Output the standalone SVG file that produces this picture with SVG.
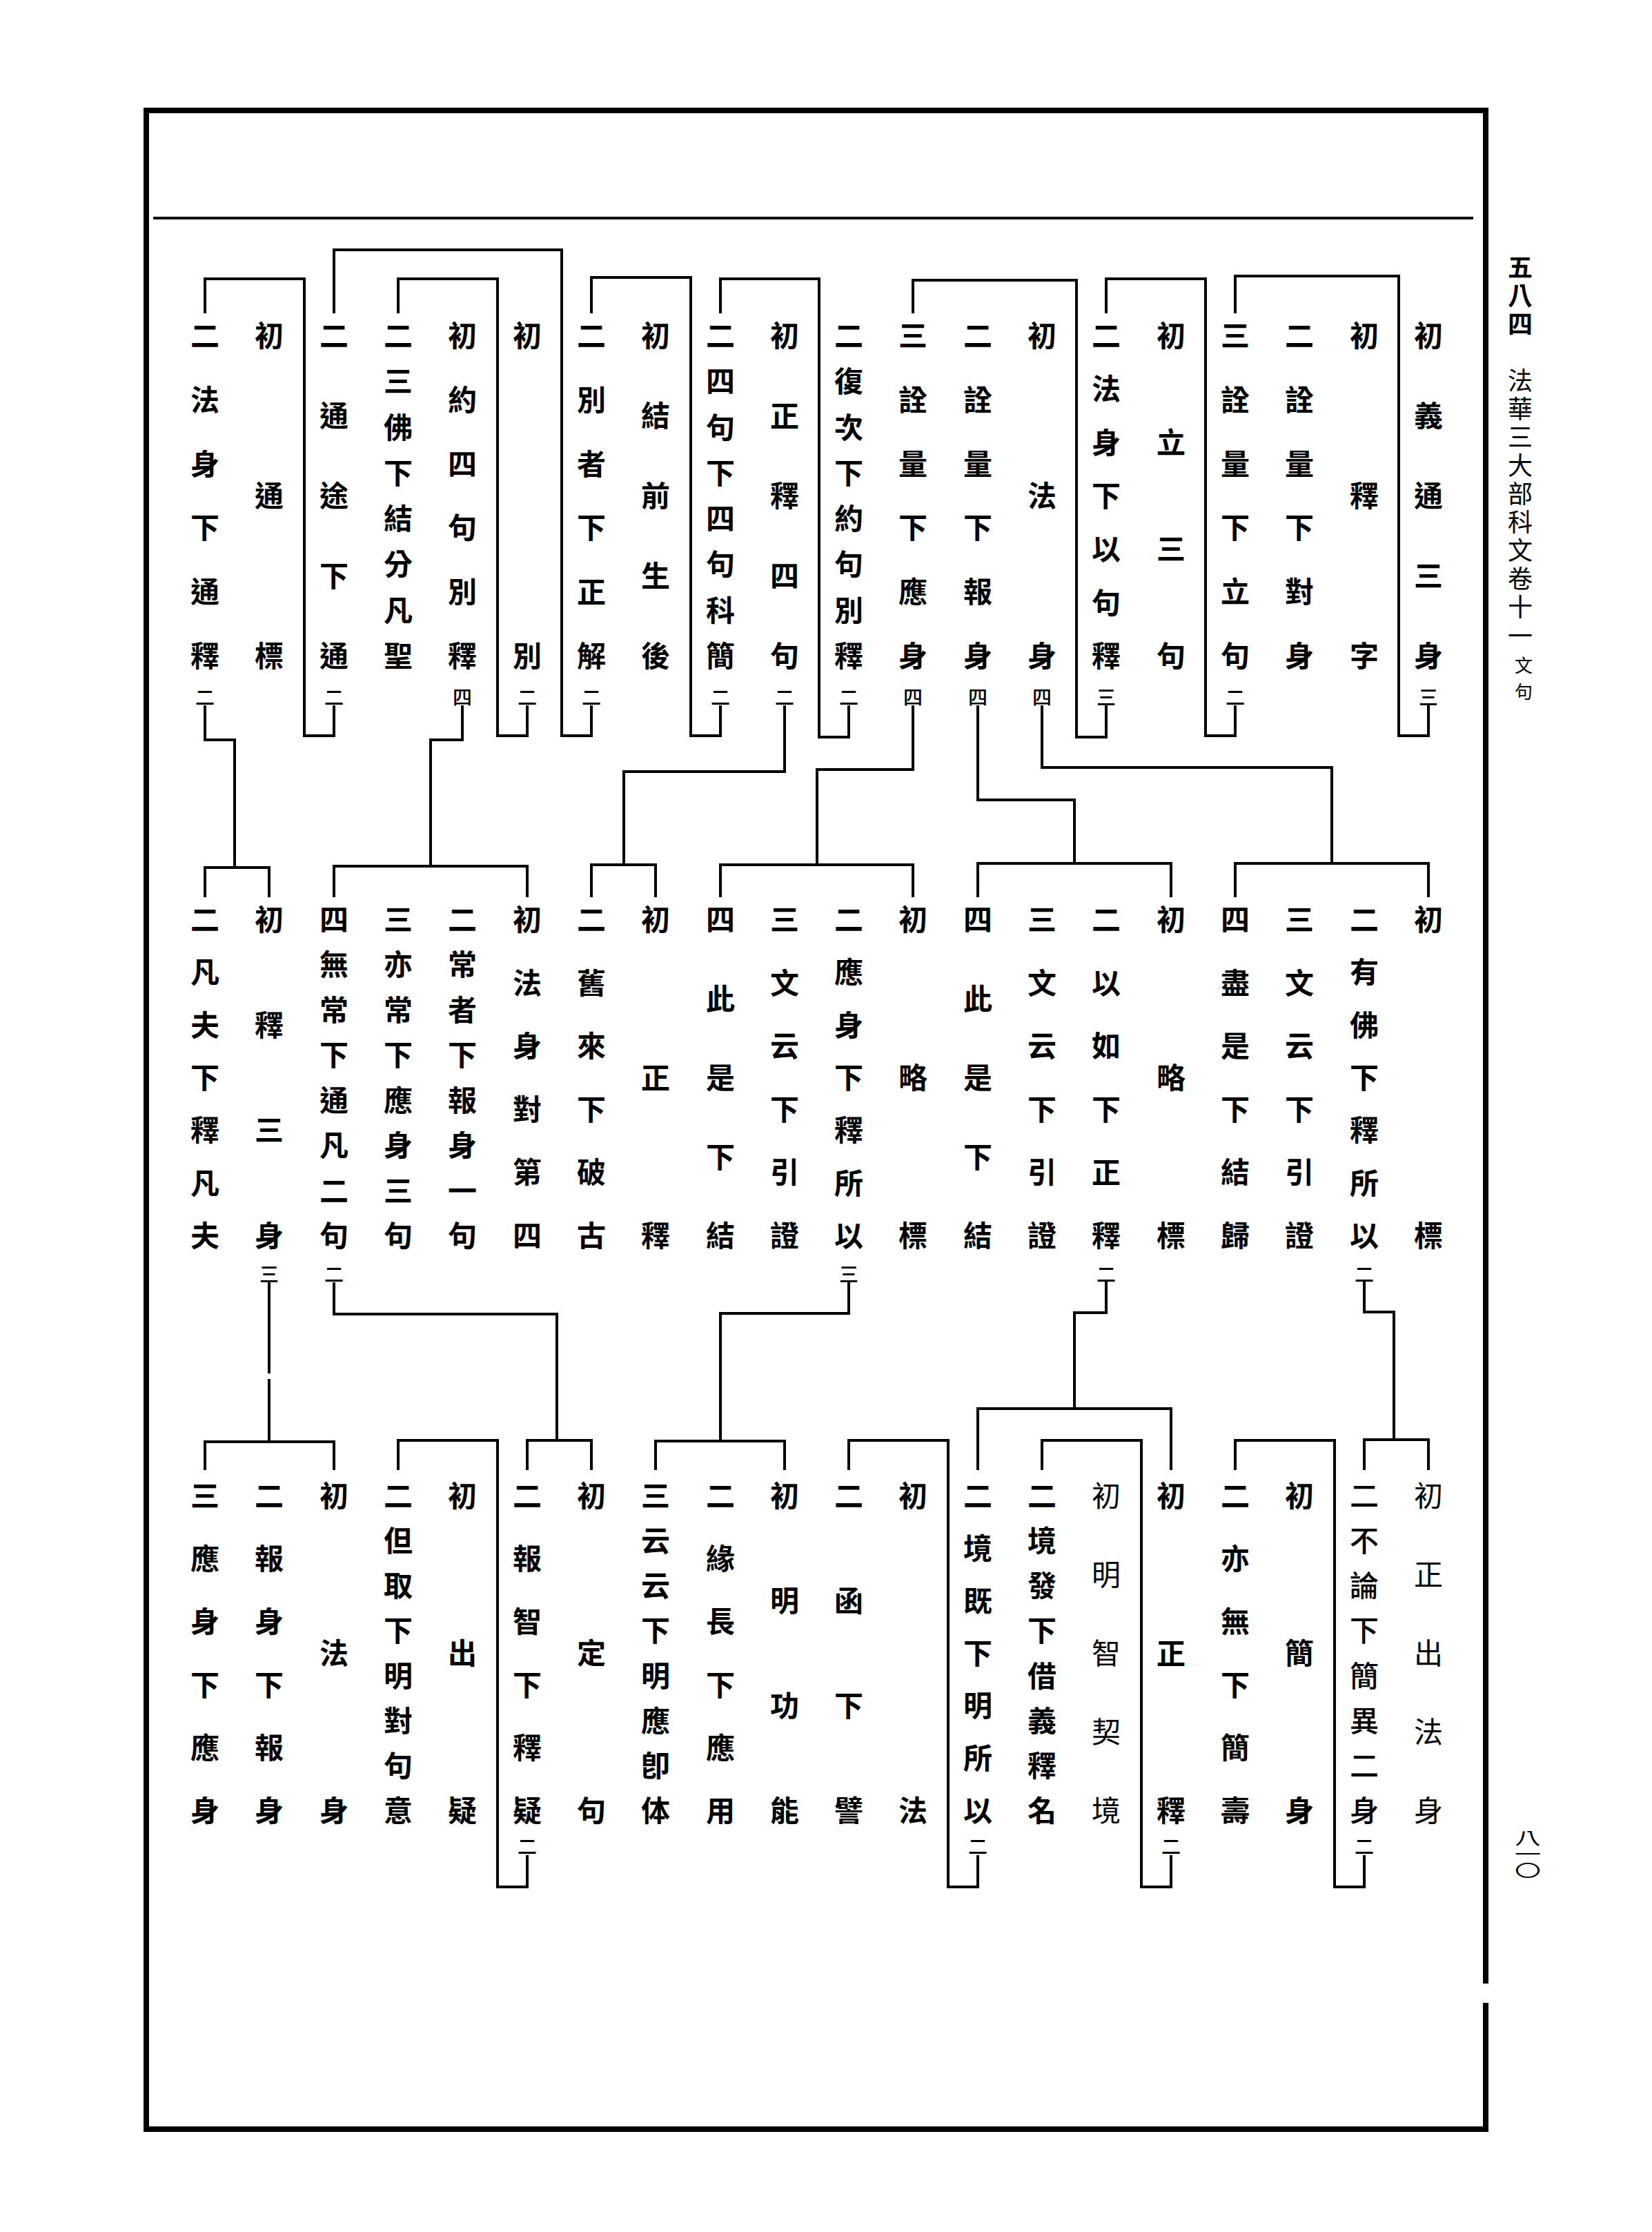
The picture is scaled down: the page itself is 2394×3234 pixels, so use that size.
<svg xmlns="http://www.w3.org/2000/svg" width="2394" height="3234" viewBox="0 0 2394 3234">
<style>
text{font-family:"Noto Sans CJK TC","Noto Sans CJK SC",sans-serif;text-anchor:middle;dominant-baseline:central;fill:#000}
.t{font-size:42px;font-weight:700}
.l{font-weight:400}
.m{font-weight:500}
.s{font-size:28px;font-weight:500}
.mg{font-size:36px;font-weight:400}
.v{writing-mode:vertical-rl;text-anchor:start}
.ln{fill:none;stroke:#000;stroke-width:4;stroke-linecap:square;stroke-linejoin:miter}
.fr{fill:none;stroke:#000;stroke-width:8;stroke-linecap:square;stroke-linejoin:miter}
</style>
<rect width="2394" height="3234" fill="#fff"/>
<g id="frame">
<path class="fr" d="M2153,2870 V160 H212 V3085 H2153 V2906"/>
<path class="ln" d="M224,316 H2133"/>
</g>
<g id="margin">
<text class="mg v" x="2203" y="369" style="font-weight:700;letter-spacing:5px">五八四</text>
<text class="mg v" x="2203" y="533" style="letter-spacing:5.1px">法華三大部科文卷十一</text>
<text class="mg v" x="2208" y="951" style="font-size:26px;letter-spacing:12px">文句</text>
<text class="mg v" x="0" y="0" transform="translate(2214,2651) scale(1,0.62)" style="font-size:38px">八一〇</text>
</g>
<g id="top-row">
<g id="t01"><text class="t"><tspan x="2070" y="483">初</tspan><tspan x="2070" y="599">義</tspan><tspan x="2070" y="715">通</tspan><tspan x="2070" y="831">三</tspan><tspan x="2070" y="947">身</tspan><tspan class="s" x="2070" y="1009">三</tspan></text></g>
<g id="t02"><text class="t"><tspan x="1977" y="483">初</tspan><tspan x="1977" y="715">釋</tspan><tspan x="1977" y="947">字</tspan></text></g>
<g id="t03"><text class="t"><tspan x="1883" y="483">二</tspan><tspan x="1883" y="576">詮</tspan><tspan x="1883" y="669">量</tspan><tspan x="1883" y="761">下</tspan><tspan x="1883" y="854">對</tspan><tspan x="1883" y="947">身</tspan></text></g>
<g id="t04"><text class="t"><tspan x="1790" y="483">三</tspan><tspan x="1790" y="576">詮</tspan><tspan x="1790" y="669">量</tspan><tspan x="1790" y="761">下</tspan><tspan x="1790" y="854">立</tspan><tspan x="1790" y="947">句</tspan><tspan class="s" x="1790" y="1009">二</tspan></text></g>
<g id="t05"><text class="t"><tspan x="1697" y="483">初</tspan><tspan x="1697" y="638">立</tspan><tspan x="1697" y="792">三</tspan><tspan x="1697" y="947">句</tspan></text></g>
<g id="t06"><text class="t"><tspan x="1603" y="483">二</tspan><tspan x="1603" y="560">法</tspan><tspan x="1603" y="638">身</tspan><tspan x="1603" y="715">下</tspan><tspan x="1603" y="792">以</tspan><tspan x="1603" y="870">句</tspan><tspan x="1603" y="947">釋</tspan><tspan class="s" x="1603" y="1009">三</tspan></text></g>
<g id="t07"><text class="t"><tspan x="1510" y="483">初</tspan><tspan x="1510" y="715">法</tspan><tspan x="1510" y="947">身</tspan><tspan class="s" x="1510" y="1009">四</tspan></text></g>
<g id="t08"><text class="t"><tspan x="1417" y="483">二</tspan><tspan x="1417" y="576">詮</tspan><tspan x="1417" y="669">量</tspan><tspan x="1417" y="761">下</tspan><tspan x="1417" y="854">報</tspan><tspan x="1417" y="947">身</tspan><tspan class="s" x="1417" y="1009">四</tspan></text></g>
<g id="t09"><text class="t"><tspan x="1323" y="483">三</tspan><tspan x="1323" y="576">詮</tspan><tspan x="1323" y="669">量</tspan><tspan x="1323" y="761">下</tspan><tspan x="1323" y="854">應</tspan><tspan x="1323" y="947">身</tspan><tspan class="s" x="1323" y="1009">四</tspan></text></g>
<g id="t10"><text class="t"><tspan x="1230" y="483">二</tspan><tspan x="1230" y="549">復</tspan><tspan x="1230" y="616">次</tspan><tspan x="1230" y="682">下</tspan><tspan x="1230" y="748">約</tspan><tspan x="1230" y="814">句</tspan><tspan x="1230" y="881">別</tspan><tspan x="1230" y="947">釋</tspan><tspan class="s" x="1230" y="1009">二</tspan></text></g>
<g id="t11"><text class="t"><tspan x="1137" y="483">初</tspan><tspan x="1137" y="599">正</tspan><tspan x="1137" y="715">釋</tspan><tspan x="1137" y="831">四</tspan><tspan x="1137" y="947">句</tspan><tspan class="s" x="1137" y="1009">二</tspan></text></g>
<g id="t12"><text class="t"><tspan x="1044" y="483">二</tspan><tspan x="1044" y="549">四</tspan><tspan x="1044" y="616">句</tspan><tspan x="1044" y="682">下</tspan><tspan x="1044" y="748">四</tspan><tspan x="1044" y="814">句</tspan><tspan x="1044" y="881">科</tspan><tspan x="1044" y="947">簡</tspan><tspan class="s" x="1044" y="1009">二</tspan></text></g>
<g id="t13"><text class="t"><tspan x="950" y="483">初</tspan><tspan x="950" y="599">結</tspan><tspan x="950" y="715">前</tspan><tspan x="950" y="831">生</tspan><tspan x="950" y="947">後</tspan></text></g>
<g id="t14"><text class="t"><tspan x="857" y="483">二</tspan><tspan x="857" y="576">別</tspan><tspan x="857" y="669">者</tspan><tspan x="857" y="761">下</tspan><tspan x="857" y="854">正</tspan><tspan x="857" y="947">解</tspan><tspan class="s" x="857" y="1009">二</tspan></text></g>
<g id="t15"><text class="t"><tspan x="764" y="483">初</tspan><tspan x="764" y="947">別</tspan><tspan class="s" x="764" y="1009">二</tspan></text></g>
<g id="t16"><text class="t"><tspan x="670" y="483">初</tspan><tspan x="670" y="576">約</tspan><tspan x="670" y="669">四</tspan><tspan x="670" y="761">句</tspan><tspan x="670" y="854">別</tspan><tspan x="670" y="947">釋</tspan><tspan class="s" x="670" y="1009">四</tspan></text></g>
<g id="t17"><text class="t"><tspan x="577" y="483">二</tspan><tspan x="577" y="549">三</tspan><tspan x="577" y="616">佛</tspan><tspan x="577" y="682">下</tspan><tspan x="577" y="748">結</tspan><tspan x="577" y="814">分</tspan><tspan x="577" y="881">凡</tspan><tspan x="577" y="947">聖</tspan></text></g>
<g id="t18"><text class="t"><tspan x="484" y="483">二</tspan><tspan x="484" y="599">通</tspan><tspan x="484" y="715">途</tspan><tspan x="484" y="831">下</tspan><tspan x="484" y="947">通</tspan><tspan class="s" x="484" y="1009">二</tspan></text></g>
<g id="t19"><text class="t"><tspan x="390" y="483">初</tspan><tspan x="390" y="715">通</tspan><tspan x="390" y="947">標</tspan></text></g>
<g id="t20"><text class="t"><tspan x="297" y="483">二</tspan><tspan x="297" y="576">法</tspan><tspan x="297" y="669">身</tspan><tspan x="297" y="761">下</tspan><tspan x="297" y="854">通</tspan><tspan x="297" y="947">釋</tspan><tspan class="s" x="297" y="1009">二</tspan></text></g>
</g>
<g id="middle-row">
<g id="m01"><text class="t"><tspan x="2070" y="1329">初</tspan><tspan x="2070" y="1787">標</tspan></text></g>
<g id="m02"><text class="t"><tspan x="1977" y="1329">二</tspan><tspan x="1977" y="1405">有</tspan><tspan x="1977" y="1482">佛</tspan><tspan x="1977" y="1558">下</tspan><tspan x="1977" y="1634">釋</tspan><tspan x="1977" y="1711">所</tspan><tspan x="1977" y="1787">以</tspan><tspan class="s" x="1977" y="1845">二</tspan></text></g>
<g id="m03"><text class="t"><tspan x="1883" y="1329">三</tspan><tspan x="1883" y="1421">文</tspan><tspan x="1883" y="1512">云</tspan><tspan x="1883" y="1604">下</tspan><tspan x="1883" y="1695">引</tspan><tspan x="1883" y="1787">證</tspan></text></g>
<g id="m04"><text class="t"><tspan x="1790" y="1329">四</tspan><tspan x="1790" y="1421">盡</tspan><tspan x="1790" y="1512">是</tspan><tspan x="1790" y="1604">下</tspan><tspan x="1790" y="1695">結</tspan><tspan x="1790" y="1787">歸</tspan></text></g>
<g id="m05"><text class="t"><tspan x="1697" y="1329">初</tspan><tspan x="1697" y="1558">略</tspan><tspan x="1697" y="1787">標</tspan></text></g>
<g id="m06"><text class="t"><tspan x="1603" y="1329">二</tspan><tspan x="1603" y="1421">以</tspan><tspan x="1603" y="1512">如</tspan><tspan x="1603" y="1604">下</tspan><tspan x="1603" y="1695">正</tspan><tspan x="1603" y="1787">釋</tspan><tspan class="s" x="1603" y="1845">二</tspan></text></g>
<g id="m07"><text class="t"><tspan x="1510" y="1329">三</tspan><tspan x="1510" y="1421">文</tspan><tspan x="1510" y="1512">云</tspan><tspan x="1510" y="1604">下</tspan><tspan x="1510" y="1695">引</tspan><tspan x="1510" y="1787">證</tspan></text></g>
<g id="m08"><text class="t"><tspan x="1417" y="1329">四</tspan><tspan x="1417" y="1444">此</tspan><tspan x="1417" y="1558">是</tspan><tspan x="1417" y="1673">下</tspan><tspan x="1417" y="1787">結</tspan></text></g>
<g id="m09"><text class="t"><tspan x="1323" y="1329">初</tspan><tspan x="1323" y="1558">略</tspan><tspan x="1323" y="1787">標</tspan></text></g>
<g id="m10"><text class="t"><tspan x="1230" y="1329">二</tspan><tspan x="1230" y="1405">應</tspan><tspan x="1230" y="1482">身</tspan><tspan x="1230" y="1558">下</tspan><tspan x="1230" y="1634">釋</tspan><tspan x="1230" y="1711">所</tspan><tspan x="1230" y="1787">以</tspan><tspan class="s" x="1230" y="1845">三</tspan></text></g>
<g id="m11"><text class="t"><tspan x="1137" y="1329">三</tspan><tspan x="1137" y="1421">文</tspan><tspan x="1137" y="1512">云</tspan><tspan x="1137" y="1604">下</tspan><tspan x="1137" y="1695">引</tspan><tspan x="1137" y="1787">證</tspan></text></g>
<g id="m12"><text class="t"><tspan x="1044" y="1329">四</tspan><tspan x="1044" y="1444">此</tspan><tspan x="1044" y="1558">是</tspan><tspan x="1044" y="1673">下</tspan><tspan x="1044" y="1787">結</tspan></text></g>
<g id="m13"><text class="t"><tspan x="950" y="1329">初</tspan><tspan x="950" y="1558">正</tspan><tspan x="950" y="1787">釋</tspan></text></g>
<g id="m14"><text class="t"><tspan x="857" y="1329">二</tspan><tspan x="857" y="1421">舊</tspan><tspan x="857" y="1512">來</tspan><tspan x="857" y="1604">下</tspan><tspan x="857" y="1695">破</tspan><tspan x="857" y="1787">古</tspan></text></g>
<g id="m15"><text class="t"><tspan x="764" y="1329">初</tspan><tspan x="764" y="1421">法</tspan><tspan x="764" y="1512">身</tspan><tspan x="764" y="1604">對</tspan><tspan x="764" y="1695">第</tspan><tspan x="764" y="1787">四</tspan></text></g>
<g id="m16"><text class="t"><tspan x="670" y="1329">二</tspan><tspan x="670" y="1394">常</tspan><tspan x="670" y="1460">者</tspan><tspan x="670" y="1525">下</tspan><tspan x="670" y="1591">報</tspan><tspan x="670" y="1656">身</tspan><tspan x="670" y="1722">一</tspan><tspan x="670" y="1787">句</tspan></text></g>
<g id="m17"><text class="t"><tspan x="577" y="1329">三</tspan><tspan x="577" y="1394">亦</tspan><tspan x="577" y="1460">常</tspan><tspan x="577" y="1525">下</tspan><tspan x="577" y="1591">應</tspan><tspan x="577" y="1656">身</tspan><tspan x="577" y="1722">三</tspan><tspan x="577" y="1787">句</tspan></text></g>
<g id="m18"><text class="t"><tspan x="484" y="1329">四</tspan><tspan x="484" y="1394">無</tspan><tspan x="484" y="1460">常</tspan><tspan x="484" y="1525">下</tspan><tspan x="484" y="1591">通</tspan><tspan x="484" y="1656">凡</tspan><tspan x="484" y="1722">二</tspan><tspan x="484" y="1787">句</tspan><tspan class="s" x="484" y="1845">二</tspan></text></g>
<g id="m19"><text class="t"><tspan x="390" y="1329">初</tspan><tspan x="390" y="1482">釋</tspan><tspan x="390" y="1634">三</tspan><tspan x="390" y="1787">身</tspan><tspan class="s" x="390" y="1845">三</tspan></text></g>
<g id="m20"><text class="t"><tspan x="297" y="1329">二</tspan><tspan x="297" y="1405">凡</tspan><tspan x="297" y="1482">夫</tspan><tspan x="297" y="1558">下</tspan><tspan x="297" y="1634">釋</tspan><tspan x="297" y="1711">凡</tspan><tspan x="297" y="1787">夫</tspan></text></g>
</g>
<g id="bottom-row">
<g id="b01"><text class="t l"><tspan x="2070" y="2164">初</tspan><tspan x="2070" y="2278">正</tspan><tspan x="2070" y="2392">出</tspan><tspan x="2070" y="2506">法</tspan><tspan x="2070" y="2620">身</tspan></text></g>
<g id="b02"><text class="t m"><tspan x="1977" y="2164">二</tspan><tspan x="1977" y="2229">不</tspan><tspan x="1977" y="2294">論</tspan><tspan x="1977" y="2359">下</tspan><tspan x="1977" y="2425">簡</tspan><tspan x="1977" y="2490">異</tspan><tspan x="1977" y="2555">二</tspan><tspan x="1977" y="2620">身</tspan><tspan class="s" x="1977" y="2674">二</tspan></text></g>
<g id="b03"><text class="t"><tspan x="1883" y="2164">初</tspan><tspan x="1883" y="2392">簡</tspan><tspan x="1883" y="2620">身</tspan></text></g>
<g id="b04"><text class="t"><tspan x="1790" y="2164">二</tspan><tspan x="1790" y="2255">亦</tspan><tspan x="1790" y="2346">無</tspan><tspan x="1790" y="2438">下</tspan><tspan x="1790" y="2529">簡</tspan><tspan x="1790" y="2620">壽</tspan></text></g>
<g id="b05"><text class="t"><tspan x="1697" y="2164">初</tspan><tspan x="1697" y="2392">正</tspan><tspan x="1697" y="2620">釋</tspan><tspan class="s" x="1697" y="2674">二</tspan></text></g>
<g id="b06"><text class="t l"><tspan x="1603" y="2164">初</tspan><tspan x="1603" y="2278">明</tspan><tspan x="1603" y="2392">智</tspan><tspan x="1603" y="2506">契</tspan><tspan x="1603" y="2620">境</tspan></text></g>
<g id="b07"><text class="t"><tspan x="1510" y="2164">二</tspan><tspan x="1510" y="2229">境</tspan><tspan x="1510" y="2294">發</tspan><tspan x="1510" y="2359">下</tspan><tspan x="1510" y="2425">借</tspan><tspan x="1510" y="2490">義</tspan><tspan x="1510" y="2555">釋</tspan><tspan x="1510" y="2620">名</tspan></text></g>
<g id="b08"><text class="t"><tspan x="1417" y="2164">二</tspan><tspan x="1417" y="2240">境</tspan><tspan x="1417" y="2316">既</tspan><tspan x="1417" y="2392">下</tspan><tspan x="1417" y="2468">明</tspan><tspan x="1417" y="2544">所</tspan><tspan x="1417" y="2620">以</tspan><tspan class="s" x="1417" y="2674">二</tspan></text></g>
<g id="b09"><text class="t"><tspan x="1323" y="2164">初</tspan><tspan x="1323" y="2620">法</tspan></text></g>
<g id="b10"><text class="t"><tspan x="1230" y="2164">二</tspan><tspan x="1230" y="2316">函</tspan><tspan x="1230" y="2468">下</tspan><tspan x="1230" y="2620">譬</tspan></text></g>
<g id="b11"><text class="t"><tspan x="1137" y="2164">初</tspan><tspan x="1137" y="2316">明</tspan><tspan x="1137" y="2468">功</tspan><tspan x="1137" y="2620">能</tspan></text></g>
<g id="b12"><text class="t"><tspan x="1044" y="2164">二</tspan><tspan x="1044" y="2255">緣</tspan><tspan x="1044" y="2346">長</tspan><tspan x="1044" y="2438">下</tspan><tspan x="1044" y="2529">應</tspan><tspan x="1044" y="2620">用</tspan></text></g>
<g id="b13"><text class="t"><tspan x="950" y="2164">三</tspan><tspan x="950" y="2229">云</tspan><tspan x="950" y="2294">云</tspan><tspan x="950" y="2359">下</tspan><tspan x="950" y="2425">明</tspan><tspan x="950" y="2490">應</tspan><tspan x="950" y="2555">卽</tspan><tspan x="950" y="2620">体</tspan></text></g>
<g id="b14"><text class="t"><tspan x="857" y="2164">初</tspan><tspan x="857" y="2392">定</tspan><tspan x="857" y="2620">句</tspan></text></g>
<g id="b15"><text class="t"><tspan x="764" y="2164">二</tspan><tspan x="764" y="2255">報</tspan><tspan x="764" y="2346">智</tspan><tspan x="764" y="2438">下</tspan><tspan x="764" y="2529">釋</tspan><tspan x="764" y="2620">疑</tspan><tspan class="s" x="764" y="2674">二</tspan></text></g>
<g id="b16"><text class="t"><tspan x="670" y="2164">初</tspan><tspan x="670" y="2392">出</tspan><tspan x="670" y="2620">疑</tspan></text></g>
<g id="b17"><text class="t"><tspan x="577" y="2164">二</tspan><tspan x="577" y="2229">但</tspan><tspan x="577" y="2294">取</tspan><tspan x="577" y="2359">下</tspan><tspan x="577" y="2425">明</tspan><tspan x="577" y="2490">對</tspan><tspan x="577" y="2555">句</tspan><tspan x="577" y="2620">意</tspan></text></g>
<g id="b18"><text class="t"><tspan x="484" y="2164">初</tspan><tspan x="484" y="2392">法</tspan><tspan x="484" y="2620">身</tspan></text></g>
<g id="b19"><text class="t"><tspan x="390" y="2164">二</tspan><tspan x="390" y="2255">報</tspan><tspan x="390" y="2346">身</tspan><tspan x="390" y="2438">下</tspan><tspan x="390" y="2529">報</tspan><tspan x="390" y="2620">身</tspan></text></g>
<g id="b20"><text class="t"><tspan x="297" y="2164">三</tspan><tspan x="297" y="2255">應</tspan><tspan x="297" y="2346">身</tspan><tspan x="297" y="2438">下</tspan><tspan x="297" y="2529">應</tspan><tspan x="297" y="2620">身</tspan></text></g>
</g>
<g id="connectors" class="ln">
<path d="M1790,452 V400 H2027 V1066 H2070 V1024"/>
<path d="M1603,452 V404 H1747 V1066 H1790 V1024"/>
<path d="M1323,452 V406 H1560 V1068 H1603 V1024"/>
<path d="M1044,452 V404 H1187 V1068 H1230 V1024"/>
<path d="M857,452 V402 H1001 V1066 H1044 V1024"/>
<path d="M484,452 V362 H814 V1066 H857 V1024"/>
<path d="M577,452 V404 H721 V1066 H764 V1024"/>
<path d="M297,452 V404 H441 V1066 H484 V1024"/>
<path d="M1510,1024 V1112 H1930 V1251"/>
<path d="M1790,1298 V1251 H2070 V1298"/>
<path d="M1417,1024 V1159 H1557 V1251"/>
<path d="M1417,1298 V1251 H1697 V1298"/>
<path d="M1323,1024 V1115 H1184 V1253"/>
<path d="M1044,1298 V1253 H1323 V1298"/>
<path d="M1137,1024 V1118 H904 V1253"/>
<path d="M857,1298 V1253 H950 V1298"/>
<path d="M670,1024 V1072 H624 V1255"/>
<path d="M484,1298 V1255 H764 V1298"/>
<path d="M297,1024 V1072 H340 V1257"/>
<path d="M297,1298 V1257 H390 V1298"/>
<path d="M1977,1858 V1901 H2020 V2086"/>
<path d="M1977,2128 V2086 H2070 V2128"/>
<path d="M1603,1858 V1902 H1557 V2041"/>
<path d="M1417,2128 V2041 H1697 V2128"/>
<path d="M1230,1858 V1903 H1044 V2088"/>
<path d="M950,2128 V2088 H1137 V2128"/>
<path d="M484,1860 V1904 H807 V2087"/>
<path d="M764,2128 V2087 H857 V2128"/>
<path d="M390,1860 V1988 M390,2000 V2089"/>
<path d="M297,2128 V2089 H484 V2128"/>
<path d="M1790,2128 V2087 H1934 V2734 H1977 V2690"/>
<path d="M1510,2128 V2087 H1654 V2734 H1697 V2690"/>
<path d="M1230,2128 V2087 H1374 V2734 H1417 V2690"/>
<path d="M577,2128 V2087 H721 V2734 H764 V2690"/>
</g>
</svg>
